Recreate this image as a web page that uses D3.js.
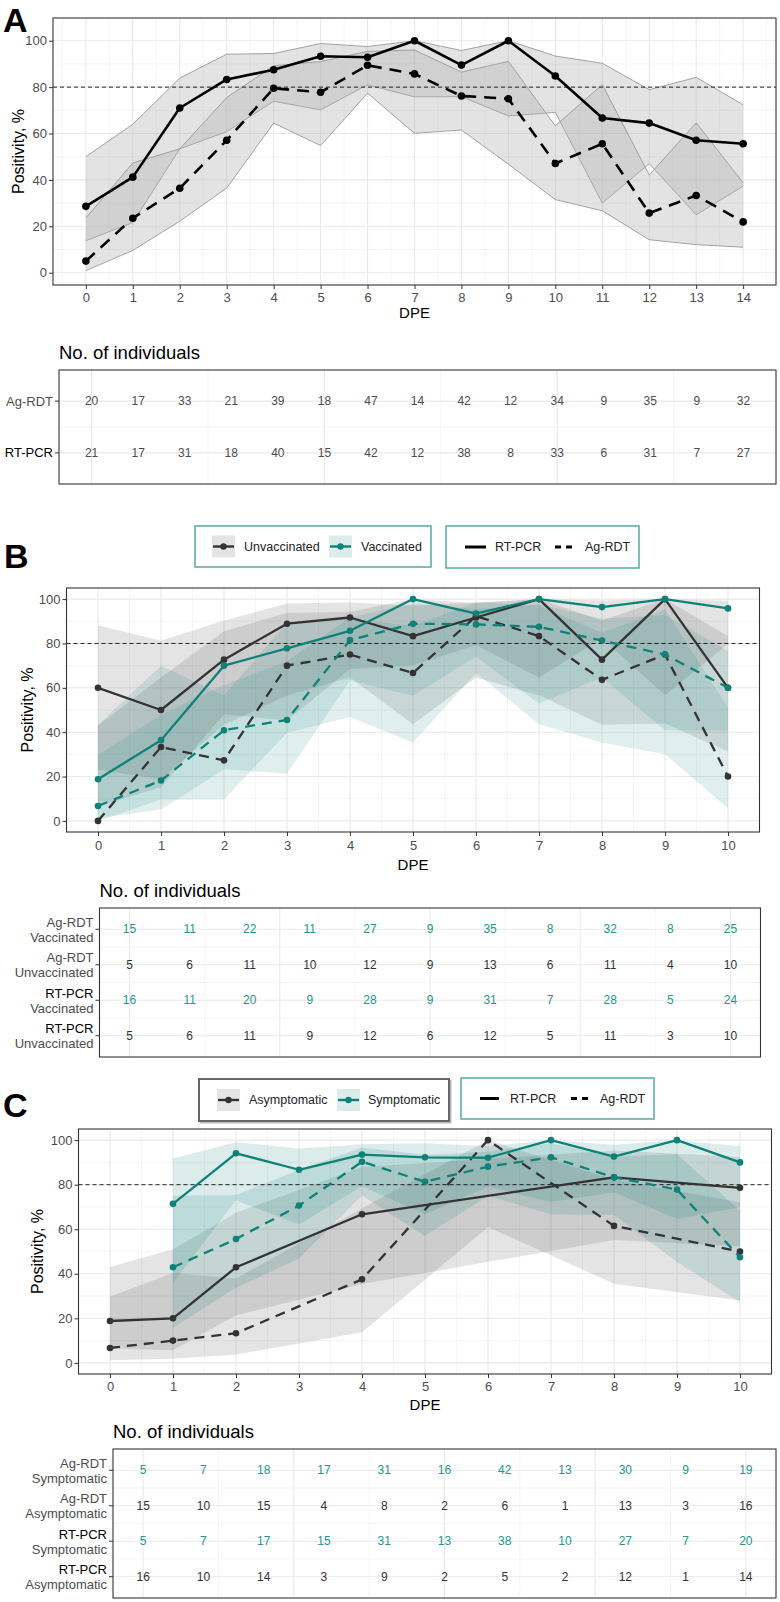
<!DOCTYPE html>
<html><head><meta charset="utf-8">
<script src="https://cdn.jsdelivr.net/npm/d3@7"></script>
<style>
body{margin:0;background:#fff}
text{font-family:"Liberation Sans",Arial,sans-serif}
</style>
</head><body>
<script>
// ---------------- DATA ----------------
// Panel A
const dpeA = [0,1,2,3,4,5,6,7,8,9,10,11,12,13,14];
const aRtPcr   = [28.6,41.2,71.0,83.3,87.5,93.3,92.9,100,89.5,100,84.8,66.7,64.5,57.1,55.6];
const aRtPcrLo = [13.8,21.6,53.4,60.8,73.9,70.2,81.0,75.8,75.9,67.6,69.1,30.0,47.0,25.0,37.3];
const aRtPcrHi = [50.0,64.0,83.9,94.2,94.5,98.8,97.5,100,95.8,100,93.4,90.3,78.9,84.2,72.4];
const aAgRdt   = [5.0,23.5,36.4,57.1,79.5,77.8,89.4,85.7,76.2,75.0,47.1,55.6,25.7,33.3,21.9];
const aAgRdtLo = [0.9,9.6,22.2,36.5,64.5,54.8,77.4,60.1,61.5,46.8,31.5,26.7,14.2,12.1,11.0];
const aAgRdtHi = [23.6,47.3,53.4,75.5,89.2,91.0,95.4,96.0,86.5,91.1,63.3,81.1,42.1,64.6,38.8];
const aNAg = [20,17,33,21,39,18,47,14,42,12,34,9,35,9,32];
const aNRt = [21,17,31,18,40,15,42,12,38,8,33,6,31,7,27];

// Panel B
const dpeB = [0,1,2,3,4,5,6,7,8,9,10];
const bRtUnv   = [60,50,72.7,88.9,91.7,83.3,91.7,100,72.7,100,60];
const bRtUnvLo = [23.1,18.8,43.4,56.5,64.6,43.6,64.6,56.6,43.4,43.9,31.3];
const bRtUnvHi = [88.2,81.2,90.3,98.0,98.5,97.0,98.5,100,90.3,100,83.2];
const bRtVac   = [18.8,36.4,70.0,77.8,85.7,100,93.5,100,96.4,100,95.8];
const bRtVacLo = [6.6,15.2,48.1,45.3,68.5,70.1,79.3,64.6,82.3,56.6,79.8];
const bRtVacHi = [43.0,64.6,85.5,93.7,94.3,100,98.2,100,99.4,100,99.3];
const bAgUnv   = [0,33.3,27.3,70,75,66.7,92.3,83.3,63.6,75,20];
const bAgUnvLo = [0,9.7,9.7,39.7,46.8,35.4,66.7,43.6,35.4,30.1,5.7];
const bAgUnvHi = [43.4,70.0,56.6,89.2,91.1,87.9,98.6,97.0,84.8,95.4,51.0];
const bAgVac   = [6.7,18.2,40.9,45.5,81.5,88.9,88.6,87.5,81.3,75,60];
const bAgVacLo = [1.2,5.1,23.3,21.3,63.3,56.5,74.0,52.9,64.7,40.9,40.7];
const bAgVacHi = [29.8,47.7,61.3,72.0,91.8,98.0,95.5,97.8,91.1,92.9,76.6];
const bNAgVac = [15,11,22,11,27,9,35,8,32,8,25];
const bNAgUnv = [5,6,11,10,12,9,13,6,11,4,10];
const bNRtVac = [16,11,20,9,28,9,31,7,28,5,24];
const bNRtUnv = [5,6,11,9,12,6,12,5,11,3,10];

// Panel C (null = not shown)
const dpeC = [0,1,2,3,4,5,6,7,8,9,10];
const cRtSym    = [null,71.4,94.1,86.7,93.5,92.3,92.1,100,92.6,100,90];
const cRtSymLo  = [null,35.9,73.0,62.1,79.3,66.7,79.2,72.2,76.6,64.6,69.9];
const cRtSymHi  = [null,91.8,99.0,96.3,98.2,98.6,97.3,100,97.9,100,97.2];
const cAgSym    = [null,42.9,55.6,70.6,90.3,81.3,88.1,92.3,83.3,77.8,47.4];
const cAgSymLo  = [null,15.8,33.7,46.9,75.1,57.0,75.0,66.7,66.4,45.3,27.3];
const cAgSymHi  = [null,75.0,75.4,86.7,96.7,93.4,94.8,98.6,92.7,93.7,68.3];
const cRtAsym   = [18.8,20,42.9,null,66.7,null,null,null,83.3,null,78.6];
const cRtAsymLo = [6.6,5.7,21.4,null,35.4,null,null,null,55.2,null,52.4];
const cRtAsymHi = [43.0,51.0,67.4,null,87.9,null,null,null,95.3,null,92.4];
const cAgAsym   = [6.7,10,13.3,null,37.5,null,100,null,61.5,null,50];
const cAgAsymLo = [1.2,1.8,3.7,null,13.7,null,61.0,null,35.5,null,28.0];
const cAgAsymHi = [29.8,40.4,37.9,null,69.4,null,100,null,82.3,null,72.0];
const cNAgSym  = [5,7,18,17,31,16,42,13,30,9,19];
const cNAgAsym = [15,10,15,4,8,2,6,1,13,3,16];
const cNRtSym  = [5,7,17,15,31,13,38,10,27,7,20];
const cNRtAsym = [16,10,14,3,9,2,5,2,12,1,14];

const yTicks = [0,20,40,60,80,100];
const yMinor = [10,30,50,70,90];

// ---------------- STYLE ----------------
const TEAL = '#0f8278', DARK = '#333333', TXT = '#4d4d4d', TEALTXT = '#23978b';
const GRIDMAJ = '#e9e9e9', GRIDMIN = '#f3f3f3';

const svg = d3.select('body').append('svg').attr('width',780).attr('height',1602);

function drawPlot(o){
  const x = d3.scaleLinear().domain(o.xDomain).range([o.left,o.right]);
  const y = d3.scaleLinear().domain(o.yDomain).range([o.bottom,o.top]);
  const g = svg.append('g');
  g.append('rect').attr('x',o.left).attr('y',o.top).attr('width',o.right-o.left).attr('height',o.bottom-o.top).attr('fill','#fff');
  const xMinor = [o.xTicks[0]-0.5].concat(o.xTicks.map(v=>v+0.5)).filter(v=>v>o.xDomain[0]&&v<o.xDomain[1]);
  g.selectAll(null).data(xMinor).enter().append('line')
    .attr('x1',d=>x(d)).attr('x2',d=>x(d)).attr('y1',o.top).attr('y2',o.bottom).attr('stroke',GRIDMIN).attr('stroke-width',0.8);
  g.selectAll(null).data(yMinor).enter().append('line')
    .attr('y1',d=>y(d)).attr('y2',d=>y(d)).attr('x1',o.left).attr('x2',o.right).attr('stroke',GRIDMIN).attr('stroke-width',0.8);
  g.selectAll(null).data(o.xTicks).enter().append('line')
    .attr('x1',d=>x(d)).attr('x2',d=>x(d)).attr('y1',o.top).attr('y2',o.bottom).attr('stroke',GRIDMAJ).attr('stroke-width',1.1);
  g.selectAll(null).data(yTicks).enter().append('line')
    .attr('y1',d=>y(d)).attr('y2',d=>y(d)).attr('x1',o.left).attr('x2',o.right).attr('stroke',GRIDMAJ).attr('stroke-width',1.1);

  const layer = g.append('g');
  o.ribbons.forEach(r=>{
    const pts = o.xs.map((d,i)=>({x:d,lo:r.lo[i],hi:r.hi[i]})).filter(p=>p.lo!=null);
    layer.append('path').datum(pts)
      .attr('d', d3.area().x(p=>x(p.x)).y0(p=>y(p.lo)).y1(p=>y(p.hi)))
      .attr('fill',r.fill).attr('fill-opacity',r.op).attr('stroke','none');
    if(r.stroke){
      ['lo','hi'].forEach(k=>{
        layer.append('path').datum(pts)
          .attr('d', d3.line().x(p=>x(p.x)).y(p=>y(p[k])))
          .attr('fill','none').attr('stroke',r.stroke).attr('stroke-width',0.9);
      });
    }
  });
  // reference line
  g.append('line').attr('x1',o.left).attr('x2',o.right).attr('y1',y(80)).attr('y2',y(80))
    .attr('stroke','#111').attr('stroke-width',0.9).attr('stroke-dasharray','4,3');
  o.series.forEach(s=>{
    const pts = o.xs.map((d,i)=>({x:d,v:s.v[i]})).filter(p=>p.v!=null);
    g.append('path').datum(pts).attr('d',d3.line().x(p=>x(p.x)).y(p=>y(p.v)))
      .attr('fill','none').attr('stroke',s.color).attr('stroke-width',s.w)
      .attr('stroke-dasharray',s.dash||null).attr('stroke-linejoin','round');
    g.selectAll(null).data(pts).enter().append('circle')
      .attr('cx',p=>x(p.x)).attr('cy',p=>y(p.v)).attr('r',s.r).attr('fill',s.color);
  });
  // border
  g.append('rect').attr('x',o.left).attr('y',o.top).attr('width',o.right-o.left).attr('height',o.bottom-o.top)
    .attr('fill','none').attr('stroke','#333').attr('stroke-width',1.1);
  // axes
  const ax = g.append('g').attr('transform',`translate(0,${o.bottom})`)
    .call(d3.axisBottom(x).tickValues(o.xTicks).tickSize(4).tickPadding(o.xPad).tickFormat(d3.format('d')));
  const ay = g.append('g').attr('transform',`translate(${o.left},0)`)
    .call(d3.axisLeft(y).tickValues(yTicks).tickSize(4).tickPadding(2));
  [ax,ay].forEach(a=>{
    a.select('.domain').remove();
    a.selectAll('line').attr('stroke','#333');
    a.selectAll('text').attr('fill',TXT).style('font-size','13px').style('font-family','"Liberation Sans",Arial,sans-serif');
  });
  g.append('text').attr('x',(o.left+o.right)/2).attr('y',o.dpeY).attr('text-anchor','middle')
    .attr('dominant-baseline','central').style('font-size','15px').attr('fill','#000').text('DPE');
  g.append('text').attr('transform',`translate(${o.yTitleX},${(o.top+o.bottom)/2}) rotate(-90)`)
    .attr('text-anchor','middle').attr('dominant-baseline','central').style('font-size','16px').attr('fill','#000').text('Positivity, %');
  g.append('text').attr('x',o.letterX).attr('y',o.letterY).style('font-size','34px').style('font-weight','bold').attr('fill','#000').text(o.letter);
}

function drawTable(o){
  const x = d3.scaleLinear().domain(o.xDomain).range([o.left,o.right]);
  const n = o.rows.length;
  const y = d3.scaleLinear().domain([0.4,n+0.6]).range([o.top,o.bottom]);
  const g = svg.append('g');
  g.append('text').attr('x',o.left).attr('y',o.top-11).style('font-size','18.5px').attr('fill','#000').text('No. of individuals');
  g.selectAll(null).data(o.vMinor).enter().append('line')
    .attr('x1',d=>x(d)).attr('x2',d=>x(d)).attr('y1',o.top).attr('y2',o.bottom).attr('stroke',GRIDMIN).attr('stroke-width',0.8);
  g.selectAll(null).data(o.vMajor).enter().append('line')
    .attr('x1',d=>x(d)).attr('x2',d=>x(d)).attr('y1',o.top).attr('y2',o.bottom).attr('stroke',GRIDMAJ).attr('stroke-width',1.1);
  const rowsIdx = d3.range(1,n+1);
  g.selectAll(null).data(rowsIdx).enter().append('line')
    .attr('y1',d=>y(d)).attr('y2',d=>y(d)).attr('x1',o.left).attr('x2',o.right).attr('stroke',GRIDMAJ).attr('stroke-width',1.1);
  g.selectAll(null).data(d3.range(1,n).map(d=>d+0.5)).enter().append('line')
    .attr('y1',d=>y(d)).attr('y2',d=>y(d)).attr('x1',o.left).attr('x2',o.right).attr('stroke',GRIDMIN).attr('stroke-width',0.8);
  o.rows.forEach((r,i)=>{
    const yy = y(i+1);
    g.selectAll(null).data(r.values).enter().append('text')
      .attr('x',(d,j)=>x(o.cols[j])).attr('y',yy).attr('text-anchor','middle').attr('dominant-baseline','central')
      .style('font-size','12px').attr('fill',r.color).text(d=>d);
    g.append('line').attr('x1',o.left-4).attr('x2',o.left).attr('y1',yy).attr('y2',yy).attr('stroke','#333');
    if(r.sub){
      g.append('text').attr('x',o.left-6).attr('y',yy-7).attr('text-anchor','end').attr('dominant-baseline','central')
        .style('font-size','13px').attr('fill',r.labelColor).text(r.label);
      g.append('text').attr('x',o.left-6).attr('y',yy+8).attr('text-anchor','end').attr('dominant-baseline','central')
        .style('font-size','13px').attr('fill',TXT).text(r.sub);
    } else {
      g.append('text').attr('x',o.left-6).attr('y',yy).attr('text-anchor','end').attr('dominant-baseline','central')
        .style('font-size','13px').attr('fill',r.labelColor).text(r.label);
    }
  });
  g.append('rect').attr('x',o.left).attr('y',o.top).attr('width',o.right-o.left).attr('height',o.bottom-o.top)
    .attr('fill','none').attr('stroke','#333').attr('stroke-width',1.1);
}

function legendGroups(o){
  const g = svg.append('g');
  if(o.shadow){
    g.append('rect').attr('x',o.box[0]+1.5).attr('y',o.box[1]+1.5).attr('width',o.box[2]-o.box[0]).attr('height',o.box[3]-o.box[1])
      .attr('fill','none').attr('stroke','#bbb').attr('stroke-width',2);
  }
  g.append('rect').attr('x',o.box[0]).attr('y',o.box[1]).attr('width',o.box[2]-o.box[0]).attr('height',o.box[3]-o.box[1])
    .attr('fill','#fff').attr('stroke',o.border).attr('stroke-width',o.bw);
  const cy = (o.box[1]+o.box[3])/2;
  o.items.forEach(it=>{
    g.append('rect').attr('x',it.kx).attr('y',cy-11).attr('width',23).attr('height',22).attr('fill',it.fill).attr('fill-opacity',0.15);
    g.append('line').attr('x1',it.kx+1).attr('x2',it.kx+22).attr('y1',cy).attr('y2',cy).attr('stroke',it.color).attr('stroke-width',2.4);
    g.append('circle').attr('cx',it.kx+11.5).attr('cy',cy).attr('r',3.2).attr('fill',it.color);
    g.append('text').attr('x',it.tx).attr('y',cy).attr('dominant-baseline','central').style('font-size','12.5px').attr('fill','#222').text(it.label);
  });
}
function legendTests(o){
  const g = svg.append('g');
  g.append('rect').attr('x',o.box[0]).attr('y',o.box[1]).attr('width',o.box[2]-o.box[0]).attr('height',o.box[3]-o.box[1])
    .attr('fill','#fff').attr('stroke',o.border).attr('stroke-width',1.5);
  const cy = (o.box[1]+o.box[3])/2;
  g.append('line').attr('x1',o.l1[0]).attr('x2',o.l1[1]).attr('y1',cy).attr('y2',cy).attr('stroke','#000').attr('stroke-width',3);
  g.append('text').attr('x',o.t1).attr('y',cy).attr('dominant-baseline','central').style('font-size','12.5px').attr('fill','#222').text('RT-PCR');
  g.append('line').attr('x1',o.l2[0]).attr('x2',o.l2[1]).attr('y1',cy).attr('y2',cy).attr('stroke','#000').attr('stroke-width',3).attr('stroke-dasharray','6,5');
  g.append('text').attr('x',o.t2).attr('y',cy).attr('dominant-baseline','central').style('font-size','12.5px').attr('fill','#222').text('Ag-RDT');
}

// ---------------- PANEL A ----------------
drawPlot({left:53,right:776,top:18,bottom:285,xDomain:[-0.7,14.7],yDomain:[-5.3,109.8],xTicks:dpeA,xs:dpeA,xPad:4,
  dpeY:312,yTitleX:18,letter:'A',letterX:3,letterY:32,
  ribbons:[
    {lo:aRtPcrLo,hi:aRtPcrHi,fill:'#b0b0b0',op:0.35,stroke:'#9a9a9a'},
    {lo:aAgRdtLo,hi:aAgRdtHi,fill:'#b0b0b0',op:0.35,stroke:'#9a9a9a'}],
  series:[
    {v:aRtPcr,color:'#000',w:2.6,r:3.8},
    {v:aAgRdt,color:'#000',w:2.6,r:3.8,dash:'12,8'}]
});
drawTable({left:59,right:776,top:370,bottom:484,xDomain:[-0.7,14.7],cols:dpeA,vMajor:[0,5,10],vMinor:[2.5,7.5,12.5],
  rows:[{label:'Ag-RDT',labelColor:TXT,values:aNAg,color:TXT},{label:'RT-PCR',labelColor:'#000',values:aNRt,color:TXT}]});

// ---------------- PANEL B ----------------
legendGroups({box:[195,526,431,567],border:'#5aa9a1',bw:1.5,items:[
  {kx:212,tx:244,fill:'#4d4d4d',color:DARK,label:'Unvaccinated'},
  {kx:329,tx:361,fill:TEAL,color:TEAL,label:'Vaccinated'}]});
legendTests({box:[446,526,639,568],border:'#5aa9a1',l1:[465,486],t1:495,l2:[555,573],t2:585});
drawPlot({left:66.5,right:759.5,top:588,bottom:832,xDomain:[-0.5,10.5],yDomain:[-5,105],xTicks:dpeB,xs:dpeB,xPad:5,
  dpeY:864,yTitleX:27,letter:'B',letterX:4,letterY:568,
  ribbons:[
    {lo:bRtUnvLo,hi:bRtUnvHi,fill:'#4d4d4d',op:0.15},
    {lo:bRtVacLo,hi:bRtVacHi,fill:'#4d4d4d',op:0.15},
    {lo:bAgUnvLo,hi:bAgUnvHi,fill:TEAL,op:0.13},
    {lo:bAgVacLo,hi:bAgVacHi,fill:TEAL,op:0.13}],
  series:[
    {v:bRtUnv,color:DARK,w:2.3,r:3.3},
    {v:bAgUnv,color:DARK,w:2.3,r:3.3,dash:'10,7'},
    {v:bRtVac,color:TEAL,w:2.3,r:3.3},
    {v:bAgVac,color:TEAL,w:2.3,r:3.3,dash:'10,7'}]
});
drawTable({left:99.5,right:760.5,top:908,bottom:1057,xDomain:[-0.5,10.5],cols:dpeB,vMajor:[0,2.5,5,7.5,10],vMinor:[1.25,3.75,6.25,8.75],
  rows:[
    {label:'Ag-RDT',sub:'Vaccinated',labelColor:TXT,values:bNAgVac,color:TEALTXT},
    {label:'Ag-RDT',sub:'Unvaccinated',labelColor:TXT,values:bNAgUnv,color:DARK},
    {label:'RT-PCR',sub:'Vaccinated',labelColor:'#000',values:bNRtVac,color:TEALTXT},
    {label:'RT-PCR',sub:'Unvaccinated',labelColor:'#000',values:bNRtUnv,color:DARK}]});

// ---------------- PANEL C ----------------
legendGroups({box:[199,1079,449,1121],border:'#666',bw:2,shadow:true,items:[
  {kx:217,tx:249,fill:'#4d4d4d',color:DARK,label:'Asymptomatic'},
  {kx:337,tx:368,fill:TEAL,color:TEAL,label:'Symptomatic'}]});
legendTests({box:[461,1078,654,1119],border:'#5aa9a1',l1:[480,499],t1:510,l2:[571,588],t2:600});
drawPlot({left:78.5,right:771.5,top:1129,bottom:1374,xDomain:[-0.5,10.5],yDomain:[-5,105],xTicks:dpeC,xs:dpeC,xPad:4,
  dpeY:1404,yTitleX:37,letter:'C',letterX:3,letterY:1117,
  ribbons:[
    {lo:cRtAsymLo,hi:cRtAsymHi,fill:'#4d4d4d',op:0.15},
    {lo:cAgAsymLo,hi:cAgAsymHi,fill:'#4d4d4d',op:0.15},
    {lo:cRtSymLo,hi:cRtSymHi,fill:TEAL,op:0.15},
    {lo:cAgSymLo,hi:cAgSymHi,fill:TEAL,op:0.15}],
  series:[
    {v:cRtAsym,color:DARK,w:2.3,r:3.3},
    {v:cAgAsym,color:DARK,w:2.3,r:3.3,dash:'10,7'},
    {v:cRtSym,color:TEAL,w:2.3,r:3.3},
    {v:cAgSym,color:TEAL,w:2.3,r:3.3,dash:'10,7'}]
});
drawTable({left:113,right:776,top:1449,bottom:1598,xDomain:[-0.5,10.5],cols:dpeC,vMajor:[0,2.5,5,7.5,10],vMinor:[1.25,3.75,6.25,8.75],
  rows:[
    {label:'Ag-RDT',sub:'Symptomatic',labelColor:TXT,values:cNAgSym,color:TEALTXT},
    {label:'Ag-RDT',sub:'Asymptomatic',labelColor:TXT,values:cNAgAsym,color:DARK},
    {label:'RT-PCR',sub:'Symptomatic',labelColor:'#000',values:cNRtSym,color:TEALTXT},
    {label:'RT-PCR',sub:'Asymptomatic',labelColor:'#000',values:cNRtAsym,color:DARK}]});
</script>
</body></html>
